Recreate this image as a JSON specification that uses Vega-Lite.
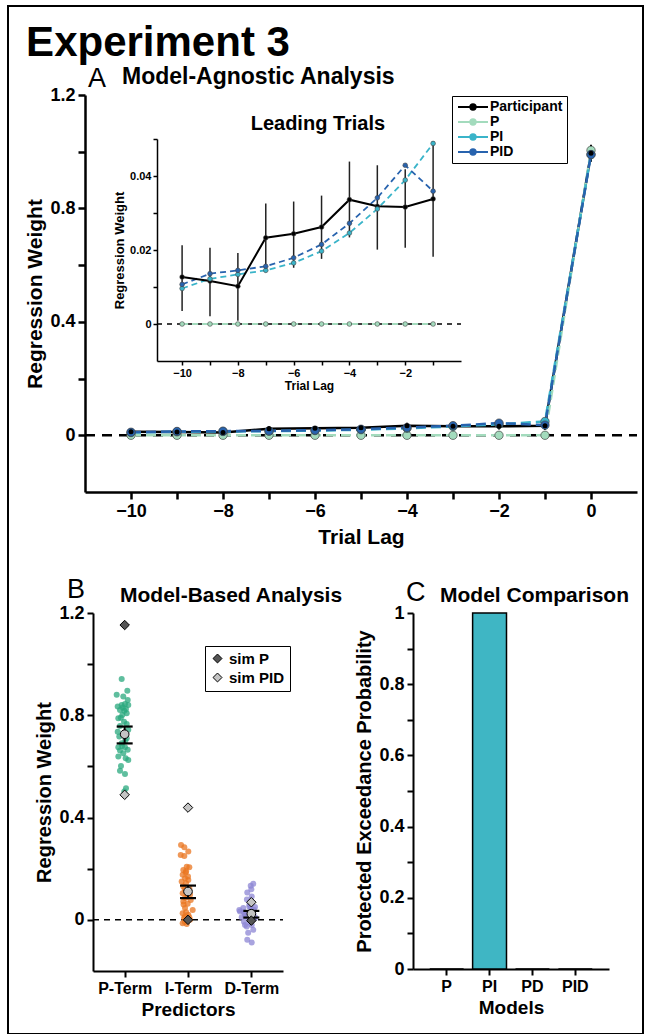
{
"$schema": "https://vega.github.io/schema/vega-lite/v6.json",
"width": 635, "height": 1028,
"autosize": {"type": "none"},
"padding": {"left": 8, "top": 6, "right": 7, "bottom": 0},
"background": "white",
"config": {
  "view": {"stroke": "black", "strokeWidth": 2},
  "font": "Liberation Sans",
  "axis": {"grid": false, "domainColor": "black", "tickColor": "black", "labelColor": "black", "titleColor": "black",
    "labelFont": "Liberation Sans", "titleFont": "Liberation Sans", "labelFontWeight": "bold", "titleFontWeight": "bold",
    "domainWidth": 2, "tickWidth": 2, "tickSize": 6, "labelFontSize": 17, "titleFontSize": 20, "labelPadding": 3,
    "labelOverlap": false, "labelFlush": false}
},
"datasets": {
  "series": [
    {"lag":-10,"series":"Participant","w":0.0127},{"lag":-9,"series":"Participant","w":0.0116},{"lag":-8,"series":"Participant","w":0.0102},
    {"lag":-7,"series":"Participant","w":0.0233},{"lag":-6,"series":"Participant","w":0.0244},{"lag":-5,"series":"Participant","w":0.0262},
    {"lag":-4,"series":"Participant","w":0.0336},{"lag":-3,"series":"Participant","w":0.0318},{"lag":-2,"series":"Participant","w":0.0316},
    {"lag":-1,"series":"Participant","w":0.0338},{"lag":0,"series":"Participant","w":0.995},
    {"lag":-10,"series":"P","w":0},{"lag":-9,"series":"P","w":0},{"lag":-8,"series":"P","w":0},{"lag":-7,"series":"P","w":0},
    {"lag":-6,"series":"P","w":0},{"lag":-5,"series":"P","w":0},{"lag":-4,"series":"P","w":0},{"lag":-3,"series":"P","w":0},
    {"lag":-2,"series":"P","w":0},{"lag":-1,"series":"P","w":0},{"lag":0,"series":"P","w":1.005},
    {"lag":-10,"series":"PI","w":0.0096},{"lag":-9,"series":"PI","w":0.0122},{"lag":-8,"series":"PI","w":0.0134},
    {"lag":-7,"series":"PI","w":0.0145},{"lag":-6,"series":"PI","w":0.0165},{"lag":-5,"series":"PI","w":0.0197},
    {"lag":-4,"series":"PI","w":0.0246},{"lag":-3,"series":"PI","w":0.0311},{"lag":-2,"series":"PI","w":0.0389},
    {"lag":-1,"series":"PI","w":0.0488},{"lag":0,"series":"PI","w":0.99},
    {"lag":-10,"series":"PID","w":0.0107},{"lag":-9,"series":"PID","w":0.0136},{"lag":-8,"series":"PID","w":0.0145},
    {"lag":-7,"series":"PID","w":0.0156},{"lag":-6,"series":"PID","w":0.0179},{"lag":-5,"series":"PID","w":0.0215},
    {"lag":-4,"series":"PID","w":0.0272},{"lag":-3,"series":"PID","w":0.0341},{"lag":-2,"series":"PID","w":0.0429},
    {"lag":-1,"series":"PID","w":0.0359},{"lag":0,"series":"PID","w":0.99}
  ],
  "part": [
    {"lag":-10,"lo":0.0035,"hi":0.0213},{"lag":-9,"lo":0.0021,"hi":0.0206},{"lag":-8,"lo":0.0009,"hi":0.0192},
    {"lag":-7,"lo":0.014,"hi":0.0326},{"lag":-6,"lo":0.0152,"hi":0.0331},{"lag":-5,"lo":0.0176,"hi":0.0347},
    {"lag":-4,"lo":0.0234,"hi":0.0439},{"lag":-3,"lo":0.0201,"hi":0.0429},{"lag":-2,"lo":0.0206,"hi":0.0418},
    {"lag":-1,"lo":0.0182,"hi":0.0494},{"lag":0,"lo":0.965,"hi":1.025}
  ],
  "dots": [
    {"t":"P","x":0.953,"w":0.942},{"t":"P","x":1.042,"w":0.896},{"t":"P","x":0.874,"w":0.880},{"t":"P","x":0.978,"w":0.873},
    {"t":"P","x":1.048,"w":0.860},{"t":"P","x":0.890,"w":0.834},{"t":"P","x":0.953,"w":0.840},{"t":"P","x":1.005,"w":0.844},
    {"t":"P","x":1.057,"w":0.840},{"t":"P","x":0.926,"w":0.821},{"t":"P","x":0.994,"w":0.818},{"t":"P","x":1.032,"w":0.808},
    {"t":"P","x":0.963,"w":0.801},{"t":"P","x":0.900,"w":0.788},{"t":"P","x":1.032,"w":0.766},{"t":"P","x":0.926,"w":0.758},
    {"t":"P","x":0.890,"w":0.736},{"t":"P","x":1.057,"w":0.743},{"t":"P","x":0.915,"w":0.717},{"t":"P","x":1.032,"w":0.710},
    {"t":"P","x":0.953,"w":0.691},{"t":"P","x":0.900,"w":0.675},{"t":"P","x":1.005,"w":0.675},{"t":"P","x":0.926,"w":0.662},
    {"t":"P","x":1.048,"w":0.665},{"t":"P","x":0.978,"w":0.652},{"t":"P","x":0.900,"w":0.639},{"t":"P","x":1.016,"w":0.632},
    {"t":"P","x":1.057,"w":0.625},{"t":"P","x":0.942,"w":0.602},{"t":"P","x":0.926,"w":0.583},{"t":"P","x":1.005,"w":0.570},
    {"t":"P","x":1.021,"w":0.515},{"t":"P","x":0.994,"w":0.502},{"t":"P","x":0.97,"w":0.83},{"t":"P","x":1.02,"w":0.825},
    {"t":"P","x":0.94,"w":0.79},{"t":"P","x":0.99,"w":0.775},{"t":"P","x":1.01,"w":0.70},{"t":"P","x":0.96,"w":0.68},
    {"t":"I","x":1.890,"w":0.293},{"t":"I","x":1.942,"w":0.284},{"t":"I","x":2.005,"w":0.267},{"t":"I","x":1.885,"w":0.254},
    {"t":"I","x":1.942,"w":0.250},{"t":"I","x":1.980,"w":0.208},{"t":"I","x":2.021,"w":0.206},{"t":"I","x":1.926,"w":0.195},
    {"t":"I","x":1.964,"w":0.185},{"t":"I","x":1.916,"w":0.176},{"t":"I","x":1.953,"w":0.163},{"t":"I","x":2.005,"w":0.156},
    {"t":"I","x":1.900,"w":0.150},{"t":"I","x":1.968,"w":0.143},{"t":"I","x":1.926,"w":0.130},{"t":"I","x":2.021,"w":0.124},
    {"t":"I","x":1.916,"w":0.104},{"t":"I","x":2.032,"w":0.098},{"t":"I","x":1.953,"w":0.085},{"t":"I","x":2.043,"w":0.078},
    {"t":"I","x":1.926,"w":0.072},{"t":"I","x":1.995,"w":0.063},{"t":"I","x":2.074,"w":0.039},{"t":"I","x":1.953,"w":0.046},
    {"t":"I","x":1.916,"w":0.026},{"t":"I","x":2.005,"w":0.020},{"t":"I","x":1.937,"w":0.007},{"t":"I","x":2.032,"w":0.000},
    {"t":"I","x":1.916,"w":-0.013},{"t":"I","x":1.980,"w":-0.016},{"t":"I","x":1.953,"w":0.013},{"t":"I","x":1.980,"w":0.104},
    {"t":"I","x":1.97,"w":0.19},{"t":"I","x":2.0,"w":0.17},{"t":"I","x":1.95,"w":0.12},{"t":"I","x":1.99,"w":0.09},
    {"t":"I","x":1.93,"w":0.06},{"t":"I","x":1.97,"w":0.03},{"t":"I","x":2.02,"w":0.01},{"t":"I","x":1.95,"w":-0.008},
    {"t":"D","x":3.031,"w":0.141},{"t":"D","x":2.990,"w":0.133},{"t":"D","x":2.936,"w":0.107},{"t":"D","x":3.006,"w":0.091},
    {"t":"D","x":2.873,"w":0.046},{"t":"D","x":2.821,"w":0.033},{"t":"D","x":3.058,"w":0.050},{"t":"D","x":3.031,"w":0.026},
    {"t":"D","x":2.900,"w":0.026},{"t":"D","x":2.848,"w":0.010},{"t":"D","x":2.952,"w":0.007},{"t":"D","x":3.058,"w":0.010},
    {"t":"D","x":2.884,"w":-0.007},{"t":"D","x":3.006,"w":-0.020},{"t":"D","x":2.927,"w":-0.026},{"t":"D","x":3.031,"w":-0.039},
    {"t":"D","x":2.936,"w":-0.078},{"t":"D","x":3.006,"w":-0.089},{"t":"D","x":2.968,"w":0.052},{"t":"D","x":2.810,"w":0.039},
    {"t":"D","x":2.95,"w":0.02},{"t":"D","x":3.0,"w":0.0},{"t":"D","x":2.9,"w":0.015},{"t":"D","x":2.97,"w":0.06},
    {"t":"D","x":2.93,"w":0.08},{"t":"D","x":2.98,"w":-0.01},{"t":"D","x":3.04,"w":0.04},{"t":"D","x":2.88,"w":0.03},
    {"t":"D","x":2.95,"w":-0.05},{"t":"D","x":3.0,"w":0.12},{"t":"D","x":3.05,"w":0.005},{"t":"D","x":2.99,"w":0.045},
    {"t":"D","x":2.9,"w":-0.02}
  ],
  "bsum": [
    {"t":"P","x":1,"mean":0.726,"lo":0.69,"hi":0.756},
    {"t":"I","x":2,"mean":0.111,"lo":0.085,"hi":0.134},
    {"t":"D","x":3,"mean":0.024,"lo":0.009,"hi":0.035}
  ],
  "sims": [
    {"x":1,"sim":"sim P","w":1.153},{"x":2,"sim":"sim P","w":0.0},{"x":3,"sim":"sim P","w":-0.003},
    {"x":1,"sim":"sim PID","w":0.489},{"x":2,"sim":"sim PID","w":0.439},{"x":3,"sim":"sim PID","w":0.069}
  ],
  "pxp": [
    {"model":"P","p":0},{"model":"PI","p":1},{"model":"PD","p":0},{"model":"PID","p":0}
  ]
},
"layer": [
  {
    "layer": [
      {"data": {"values": [{"lo": -11, "hi": 1, "w": 0}]},
       "mark": {"type": "rule", "color": "black", "strokeWidth": 2.5, "strokeDash": [10, 7]},
       "encoding": {
         "x": {"field": "lo", "type": "quantitative", "scale": {"domain": [-11, 1], "range": [77, 629], "nice": false, "zero": false},
           "axis": {"orient": "bottom", "offset": -542, "values": [-10,-9,-8,-7,-6,-5,-4,-3,-2,-1,0], "format": "~g",
             "labelExpr": "datum.value % 2 == 0 ? datum.label : ''", "title": "Trial Lag", "labelFontSize": 18, "titleFontSize": 21,
             "titlePadding": 6, "domainWidth": 2.5, "tickWidth": 2.5, "tickSize": 7}},
         "x2": {"field": "hi"},
         "y": {"field": "w", "type": "quantitative", "scale": {"domain": [-0.2, 1.2], "range": [486, 89], "nice": false, "zero": false},
           "axis": {"orient": "left", "offset": -77, "values": [0,0.2,0.4,0.6,0.8,1,1.2], "format": "~g",
             "labelExpr": "indexof(['0','0.4','0.8','1.2'], datum.label) >= 0 ? datum.label : ''", "title": "Regression Weight",
             "labelFontSize": 18, "titleFontSize": 21, "titlePadding": 4, "domainWidth": 2.5, "tickWidth": 2.5, "tickSize": 7}}
       }},
      {"data": {"name": "part"},
       "mark": {"type": "rule", "color": "black", "strokeWidth": 2},
       "encoding": {"x": {"field": "lag", "type": "quantitative"}, "y": {"field": "lo", "type": "quantitative"}, "y2": {"field": "hi"}}},
      {"data": {"name": "series"},
       "transform": [{"filter": "datum.series == 'Participant'"}],
       "mark": {"type": "line", "strokeWidth": 2.5},
       "encoding": {"x": {"field": "lag", "type": "quantitative"}, "y": {"field": "w", "type": "quantitative"},
         "color": {"field": "series", "type": "nominal",
           "scale": {"domain": ["Participant", "P", "PI", "PID"], "range": ["#000000", "#a3dbbd", "#3ab4c9", "#2863ae"]},
           "legend": {"orient": "none", "legendX": 444, "legendY": 90, "title": null, "strokeColor": "black", "fillColor": "white",
             "padding": 4, "symbolType": "M-2.5,0L2.5,0M0.45,0A0.45,0.45,0,1,1,-0.45,0A0.45,0.45,0,1,1,0.45,0",
             "symbolSize": 144, "symbolOffset": 10, "labelOffset": 10, "labelFontSize": 14, "labelFontWeight": "bold",
             "labelFont": "Liberation Sans", "labelColor": "black", "rowPadding": 1, "symbolStrokeWidth": 2}}}},
      {"data": {"name": "series"},
       "transform": [{"filter": "datum.series != 'Participant'"}],
       "mark": {"type": "line", "strokeWidth": 2.5, "strokeDash": [10, 5]},
       "encoding": {"x": {"field": "lag", "type": "quantitative"}, "y": {"field": "w", "type": "quantitative"},
         "color": {"field": "series", "type": "nominal",
           "legend": {"orient": "none", "legendX": 444, "legendY": 90, "title": null, "strokeColor": "black", "fillColor": "white",
             "padding": 4, "symbolType": "M-2.5,0L2.5,0M0.45,0A0.45,0.45,0,1,1,-0.45,0A0.45,0.45,0,1,1,0.45,0",
             "symbolSize": 144, "symbolOffset": 10, "labelOffset": 10, "labelFontSize": 14, "labelFontWeight": "bold",
             "labelFont": "Liberation Sans", "labelColor": "black", "rowPadding": 1, "symbolStrokeWidth": 2}}}},
      {"data": {"name": "series"},
       "transform": [{"filter": "datum.series != 'Participant'"}],
       "mark": {"type": "point", "filled": true, "size": 70, "stroke": "#444444", "strokeWidth": 0.7, "opacity": 1},
       "encoding": {"x": {"field": "lag", "type": "quantitative"}, "y": {"field": "w", "type": "quantitative"},
         "fill": {"field": "series", "type": "nominal", "legend": null,
           "scale": {"domain": ["Participant", "P", "PI", "PID"], "range": ["#000000", "#a3dbbd", "#3ab4c9", "#2863ae"]}}}},
      {"data": {"name": "series"},
       "transform": [{"filter": "datum.series == 'Participant'"}],
       "mark": {"type": "point", "filled": true, "size": 25, "opacity": 1, "strokeWidth": 0},
       "encoding": {"x": {"field": "lag", "type": "quantitative"}, "y": {"field": "w", "type": "quantitative"},
         "fill": {"field": "series", "type": "nominal", "legend": null}}},
      {"data": {"values": [{"lag": -12.28, "w": 1.337}]},
       "mark": {"type": "text", "text": "Experiment 3", "align": "left", "baseline": "alphabetic", "fontSize": 42, "fontWeight": "bold", "font": "Liberation Sans", "color": "black"},
       "encoding": {"x": {"field": "lag", "type": "quantitative"}, "y": {"field": "w", "type": "quantitative"}}},
      {"data": {"values": [{"lag": -10.935, "w": 1.228}]},
       "mark": {"type": "text", "text": "A", "align": "left", "baseline": "alphabetic", "fontSize": 27, "font": "Liberation Sans", "color": "black"},
       "encoding": {"x": {"field": "lag", "type": "quantitative"}, "y": {"field": "w", "type": "quantitative"}}},
      {"data": {"values": [{"lag": -10.196, "w": 1.2386}]},
       "mark": {"type": "text", "text": "Model-Agnostic Analysis", "align": "left", "baseline": "alphabetic", "fontSize": 23, "fontWeight": "bold", "font": "Liberation Sans", "color": "black"},
       "encoding": {"x": {"field": "lag", "type": "quantitative"}, "y": {"field": "w", "type": "quantitative"}}}
    ]
  },
  {
    "layer": [
      {"data": {"values": [{"lo": -10.9, "hi": 0, "w": 0}]},
       "mark": {"type": "rule", "color": "black", "strokeWidth": 1.5, "strokeDash": [5, 5]},
       "encoding": {
         "x": {"field": "lo", "type": "quantitative", "scale": {"domain": [-10.9, 0], "range": [149, 453], "nice": false, "zero": false},
           "axis": {"orient": "bottom", "offset": -673, "values": [-10,-9,-8,-7,-6,-5,-4,-3,-2,-1], "format": "~g",
             "labelExpr": "datum.value % 2 == 0 ? datum.label : ''", "title": "Trial Lag", "labelFontSize": 11, "titleFontSize": 12,
             "titlePadding": 2, "labelPadding": 2, "domainWidth": 1.5, "tickWidth": 1.5, "tickSize": 4}},
         "x2": {"field": "hi"},
         "y": {"field": "w", "type": "quantitative", "scale": {"domain": [-0.01, 0.05], "range": [355, 133], "nice": false, "zero": false},
           "axis": {"orient": "left", "offset": -149, "values": [0,0.01,0.02,0.03,0.04,0.05], "format": "~g",
             "labelExpr": "indexof(['0','0.02','0.04'], datum.label) >= 0 ? datum.label : ''", "title": "Regression Weight",
             "labelFontSize": 11, "titleFontSize": 13, "titlePadding": 3, "labelPadding": 2, "domainWidth": 1.5, "tickWidth": 1.5, "tickSize": 4}}
       }},
      {"data": {"name": "part"},
       "transform": [{"filter": "datum.lag < 0"}],
       "mark": {"type": "rule", "color": "#222222", "strokeWidth": 1.5},
       "encoding": {"x": {"field": "lag", "type": "quantitative"}, "y": {"field": "lo", "type": "quantitative"}, "y2": {"field": "hi"}}},
      {"data": {"name": "series"},
       "transform": [{"filter": "datum.series != 'Participant' && datum.lag < 0"}],
       "mark": {"type": "line", "strokeWidth": 1.8, "strokeDash": [6, 4]},
       "encoding": {"x": {"field": "lag", "type": "quantitative"}, "y": {"field": "w", "type": "quantitative"},
         "color": {"field": "series", "type": "nominal", "legend": null,
           "scale": {"domain": ["Participant", "P", "PI", "PID"], "range": ["#000000", "#a3dbbd", "#3ab4c9", "#2863ae"]}}}},
      {"data": {"name": "series"},
       "transform": [{"filter": "datum.series == 'Participant' && datum.lag < 0"}],
       "mark": {"type": "line", "strokeWidth": 2},
       "encoding": {"x": {"field": "lag", "type": "quantitative"}, "y": {"field": "w", "type": "quantitative"},
         "color": {"field": "series", "type": "nominal", "legend": null}}},
      {"data": {"name": "series"},
       "transform": [{"filter": "datum.lag < 0"}],
       "mark": {"type": "point", "filled": true, "size": 22, "stroke": "#444444", "strokeWidth": 0.6, "opacity": 1},
       "encoding": {"x": {"field": "lag", "type": "quantitative"}, "y": {"field": "w", "type": "quantitative"},
         "fill": {"field": "series", "type": "nominal", "legend": null,
           "scale": {"domain": ["Participant", "P", "PI", "PID"], "range": ["#000000", "#a3dbbd", "#3ab4c9", "#2863ae"]}}}},
      {"data": {"values": [{"lag": -5.13, "w": 0.0524}]},
       "mark": {"type": "text", "text": "Leading Trials", "align": "center", "baseline": "alphabetic", "fontSize": 20, "fontWeight": "bold", "font": "Liberation Sans", "color": "black"},
       "encoding": {"x": {"field": "lag", "type": "quantitative"}, "y": {"field": "w", "type": "quantitative"}}}
    ]
  },
  {
    "layer": [
      {"data": {"values": [{"lo": 0.5, "hi": 3.5, "w": 0}]},
       "mark": {"type": "rule", "color": "black", "strokeWidth": 1.5, "strokeDash": [6, 5]},
       "encoding": {
         "x": {"field": "lo", "type": "quantitative", "scale": {"domain": [0.5, 3.5], "range": [85, 275], "nice": false, "zero": false},
           "axis": {"orient": "bottom", "offset": -63, "values": [1, 2, 3],
             "labelExpr": "datum.value == 1 ? 'P-Term' : (datum.value == 2 ? 'I-Term' : 'D-Term')", "title": "Predictors",
             "labelFontSize": 16, "titleFontSize": 19, "titlePadding": 4}},
         "x2": {"field": "hi"},
         "y": {"field": "w", "type": "quantitative", "scale": {"domain": [-0.2, 1.2], "range": [965, 607], "nice": false, "zero": false},
           "axis": {"orient": "left", "offset": -85, "values": [0,0.2,0.4,0.6,0.8,1,1.2], "format": "~g",
             "labelExpr": "indexof(['0','0.4','0.8','1.2'], datum.label) >= 0 ? datum.label : ''", "title": "Regression Weight",
             "labelFontSize": 18, "titleFontSize": 20, "titlePadding": 4}}
       }},
      {"data": {"name": "dots"},
       "mark": {"type": "circle", "size": 36, "opacity": 0.75},
       "encoding": {"x": {"field": "x", "type": "quantitative"}, "y": {"field": "w", "type": "quantitative"},
         "color": {"field": "t", "type": "nominal", "legend": null,
           "scale": {"domain": ["P", "I", "D"], "range": ["#2aa87e", "#ea7520", "#8c86d4"]}}}},
      {"data": {"name": "bsum"},
       "mark": {"type": "rule", "color": "black", "strokeWidth": 2},
       "encoding": {"x": {"field": "x", "type": "quantitative"}, "y": {"field": "lo", "type": "quantitative"}, "y2": {"field": "hi"}}},
      {"data": {"name": "bsum"},
       "mark": {"type": "tick", "orient": "horizontal", "color": "black", "size": 16, "thickness": 2.2, "opacity": 1},
       "encoding": {"x": {"field": "x", "type": "quantitative"}, "y": {"field": "lo", "type": "quantitative"}}},
      {"data": {"name": "bsum"},
       "mark": {"type": "tick", "orient": "horizontal", "color": "black", "size": 16, "thickness": 2.2, "opacity": 1},
       "encoding": {"x": {"field": "x", "type": "quantitative"}, "y": {"field": "hi", "type": "quantitative"}}},
      {"data": {"name": "bsum"},
       "mark": {"type": "point", "filled": true, "shape": "circle", "size": 75, "fill": "#c4c4c4", "stroke": "black", "strokeWidth": 1, "opacity": 1},
       "encoding": {"x": {"field": "x", "type": "quantitative"}, "y": {"field": "mean", "type": "quantitative"}}},
      {"data": {"name": "sims"},
       "mark": {"type": "point", "filled": true, "shape": "diamond", "size": 90, "stroke": "black", "strokeWidth": 1, "opacity": 1},
       "encoding": {"x": {"field": "x", "type": "quantitative"}, "y": {"field": "w", "type": "quantitative"},
         "fill": {"field": "sim", "type": "nominal",
           "scale": {"domain": ["sim P", "sim PID"], "range": ["#555555", "#c4c4c4"]},
           "legend": {"orient": "none", "legendX": 197, "legendY": 640, "title": null, "strokeColor": "black", "fillColor": "white",
             "padding": 5, "symbolType": "diamond", "symbolSize": 80, "symbolStrokeColor": "black", "symbolStrokeWidth": 1,
             "labelFontSize": 15, "labelFontWeight": "bold", "labelFont": "Liberation Sans", "labelColor": "black", "rowPadding": 3}}}},
      {"data": {"values": [{"x": 0.089, "w": 1.258}]},
       "mark": {"type": "text", "text": "B", "align": "left", "baseline": "alphabetic", "fontSize": 27, "font": "Liberation Sans", "color": "black"},
       "encoding": {"x": {"field": "x", "type": "quantitative"}, "y": {"field": "w", "type": "quantitative"}}},
      {"data": {"values": [{"x": 0.926, "w": 1.243}]},
       "mark": {"type": "text", "text": "Model-Based Analysis", "align": "left", "baseline": "alphabetic", "fontSize": 21, "fontWeight": "bold", "font": "Liberation Sans", "color": "black"},
       "encoding": {"x": {"field": "x", "type": "quantitative"}, "y": {"field": "w", "type": "quantitative"}}},
      {"data": {"values": [{"x": 5.442, "w": 1.245}]},
       "mark": {"type": "text", "text": "C", "align": "left", "baseline": "alphabetic", "fontSize": 27, "font": "Liberation Sans", "color": "black"},
       "encoding": {"x": {"field": "x", "type": "quantitative"}, "y": {"field": "w", "type": "quantitative"}}},
      {"data": {"values": [{"x": 5.979, "w": 1.243}]},
       "mark": {"type": "text", "text": "Model Comparison", "align": "left", "baseline": "alphabetic", "fontSize": 21, "fontWeight": "bold", "font": "Liberation Sans", "color": "black"},
       "encoding": {"x": {"field": "x", "type": "quantitative"}, "y": {"field": "w", "type": "quantitative"}}}
    ]
  },
  {
    "data": {"name": "pxp"},
    "mark": {"type": "bar", "fill": "#3fb6c4", "stroke": "black", "strokeWidth": 1.5},
    "encoding": {
      "x": {"field": "model", "type": "nominal",
        "scale": {"type": "band", "domain": ["P", "PI", "PD", "PID"], "range": [405, 601], "paddingInner": 0.21, "paddingOuter": 0.39},
        "axis": {"orient": "bottom", "offset": -65, "title": "Models", "labelAngle": 0, "labelFontSize": 16, "titleFontSize": 19, "titlePadding": 4, "bandPosition": 0.5}},
      "y": {"field": "p", "type": "quantitative", "scale": {"domain": [0, 1], "range": [963, 607], "nice": false, "zero": false},
        "axis": {"orient": "left", "offset": -405, "values": [0,0.1,0.2,0.3,0.4,0.5,0.6,0.7,0.8,0.9,1], "format": "~g",
          "labelExpr": "indexof(['0','0.2','0.4','0.6','0.8','1'], datum.label) >= 0 ? datum.label : ''",
          "title": "Protected Exceedance Probability", "labelFontSize": 18, "titleFontSize": 20, "titlePadding": 4}}
    }
  }
],
"resolve": {"scale": {"x": "independent", "y": "independent", "color": "independent", "fill": "independent"}, "axis": {"x": "independent", "y": "independent"}, "legend": {"color": "independent", "fill": "independent"}}
}
